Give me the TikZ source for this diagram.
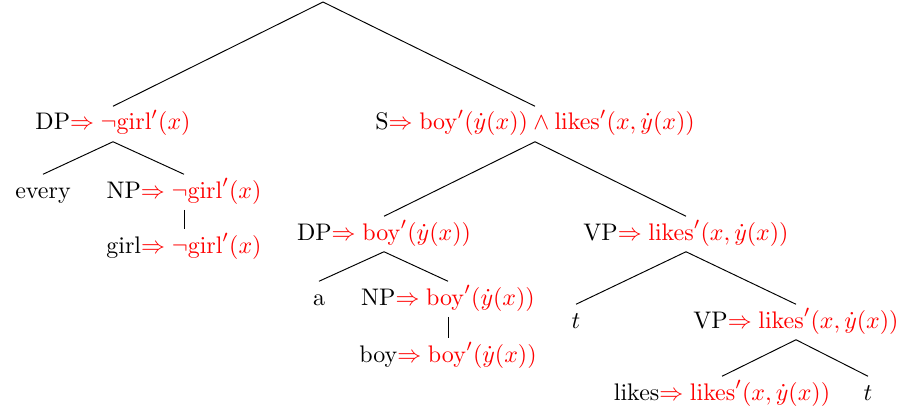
\documentclass[tikz,border=0pt]{standalone}
\usepackage{amsmath}
\usepackage{tikz}

\newcommand{\sem}[1]{\textcolor{red}{$\Rightarrow #1$}}

\begin{document}
\begin{tikzpicture}[
  x=0.417pt, y=-0.417pt,
  cat/.style={anchor=base, inner xsep=0pt, inner ysep=2.2pt, text height=7.5pt, text depth=2.5pt},
  branch/.style={line width=0.4pt}
]
\useasboundingbox (0,0) rectangle (903,413);
\coordinate (root) at (323,2);
\node[cat] (dp1) at (113,130) {DP\sem{\neg\mathrm{girl}'(x)}};
\node[cat] (s) at (535,130) {S\sem{\mathrm{boy}'(\dot{y}(x)) \wedge \mathrm{likes}'(x,\dot{y}(x))}};
\node[cat] (every) at (43,198) {every};
\node[cat] (np1) at (184,198) {NP\sem{\neg\mathrm{girl}'(x)}};
\node[cat] (girl) at (184,253) {girl\sem{\neg\mathrm{girl}'(x)}};
\node[cat] (dp2) at (384,240) {DP\sem{\mathrm{boy}'(\dot{y}(x))}};
\node[cat] (vp1) at (686,240) {VP\sem{\mathrm{likes}'(x,\dot{y}(x))}};
\node[cat] (a) at (319,305) {a};
\node[cat] (np2) at (448,305) {NP\sem{\mathrm{boy}'(\dot{y}(x))}};
\node[cat] (boy) at (448,362) {boy\sem{\mathrm{boy}'(\dot{y}(x))}};
\node[cat] (t1) at (576,328) {$t$};
\node[cat] (vp2) at (796,328) {VP\sem{\mathrm{likes}'(x,\dot{y}(x))}};
\node[cat] (likes) at (722,400) {likes\sem{\mathrm{likes}'(x,\dot{y}(x))}};
\node[cat] (t2) at (868,400) {$t$};

\draw[branch] (root) -- (dp1.north);
\draw[branch] (root) -- (s.north);
\draw[branch] (dp1.south) -- (every.north);
\draw[branch] (dp1.south) -- (np1.north);
\draw[branch] (np1.south) -- (girl.north);
\draw[branch] (s.south) -- (dp2.north);
\draw[branch] (s.south) -- (vp1.north);
\draw[branch] (dp2.south) -- (a.north);
\draw[branch] (dp2.south) -- (np2.north);
\draw[branch] (np2.south) -- (boy.north);
\draw[branch] (vp1.south) -- (t1.north);
\draw[branch] (vp1.south) -- (vp2.north);
\draw[branch] (vp2.south) -- (likes.north);
\draw[branch] (vp2.south) -- (t2.north);
\end{tikzpicture}
\end{document}
